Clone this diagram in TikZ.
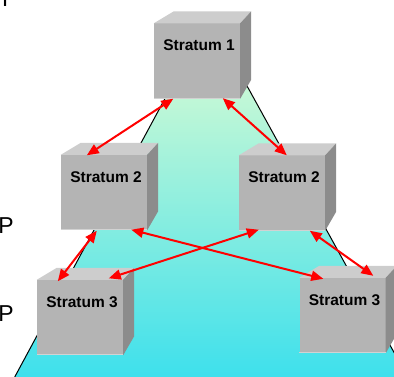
\documentclass[tikz,border=0pt]{standalone}
\usepackage{fontspec}
\setmainfont{Liberation Sans}
\usetikzlibrary{arrows.meta,calc}
\definecolor{cubefront}{RGB}{180,180,180}
\definecolor{cubetop}{RGB}{205,205,205}
\definecolor{cuberight}{RGB}{140,140,140}
\definecolor{cubeedge}{RGB}{210,210,210}
\definecolor{gtop}{RGB}{196,248,214}
\definecolor{gbot}{RGB}{62,224,236}
\definecolor{arrred}{RGB}{255,0,0}
\tikzset{
  face/.style={minimum width=86pt,minimum height=75pt,inner sep=0pt,fill=cubefront,draw=none},
  lab/.style={font=\bfseries\fontsize{15.5}{18}\selectfont,inner sep=0pt,text=black},
  sidelab/.style={font=\fontsize{23}{26}\selectfont,inner sep=0pt,anchor=base west,text=black},
  edgeline/.style={draw=black,line width=1pt},
  link/.style={draw=arrred,line width=2pt,{Triangle[length=12pt,width=10pt]}-{Triangle[length=12pt,width=10pt]}}
}
\newcommand\mycube[3]{%
  \node[face] (#1) at (#2) {};
  \fill[cubetop] (#1.north west) -- ++(20,-12) -- ($(#1.north east)+(11,-12)$) -- (#1.north east) -- cycle;
  \fill[cuberight] (#1.north east) -- ++(11,-12) -- ($(#1.south east)+(11,-19)$) -- (#1.south east) -- cycle;
  \draw[cubeedge,line width=1pt] ($(#1.south west)+(0,-0.5)$) -- ($(#1.south east)+(0,-0.5)$);
  \node[lab] (#1-t) at ($(#1.north)+(2,22)$) {#3};
}
\begin{document}
\begin{tikzpicture}[x=1pt,y=-1pt]
\useasboundingbox (0,0) rectangle (394,377);
% pyramid background
\coordinate (apex) at (209,17);
\coordinate (bl) at (14.7,377);
\coordinate (br) at (407.6,377);
\begin{scope}
  \clip (apex) -- (bl) -- (br) -- cycle;
  \fill[gtop] (0,0) rectangle (410,90);
  \shade[top color=gtop,bottom color=gbot] (0,90) rectangle (410,377);
\end{scope}
\draw[edgeline] (apex) -- (bl);
\draw[edgeline] (apex) -- (br);
% side labels (cut off at the left edge)
\node[sidelab] (tT) at (-2,7) {T};
\node[sidelab] (p1) at (-1.8,233.3) {P};
\node[sidelab] (p2) at (-1.8,321) {P};
% cubes
\mycube{s1}{197,61}{Stratum 1}
\mycube{s2l}{104,192.5}{Stratum 2}
\mycube{s2r}{282,193}{Stratum 2}
\mycube{s3l}{80,317.5}{Stratum 3}
\mycube{s3r}{342.5,315.5}{Stratum 3}
% arrow end points
\coordinate (a1) at ($(s1.south west)+(19.5,0)$);
\coordinate (b1) at ($(s2l.north west)+(26,0.5)$);
\coordinate (a2) at ($(s1.south west)+(69,-0.5)$);
\coordinate (b2) at ($(s2r.north west)+(48,0)$);
\coordinate (a3) at ($(s2l.south west)+(36,0.5)$);
\coordinate (b3) at ($(s3l.north west)+(21,1.5)$);
\coordinate (a4) at ($(s2l.south west)+(70.5,-0.5)$);
\coordinate (b4) at ($(s3r.north west)+(24,1)$);
\coordinate (a5) at ($(s2r.south west)+(20,-1)$);
\coordinate (b5) at ($(s3l.north west)+(72,-1.5)$);
\coordinate (a6) at ($(s2r.south west)+(71,0)$);
\coordinate (b6) at ($(s3r.north west)+(74,-2)$);
\draw[link] (a1) -- (b1);
\draw[link] (a2) -- (b2);
\draw[link] (a3) -- (b3);
\draw[link] (a4) -- (b4);
\draw[link] (a5) -- (b5);
\draw[link] (a6) -- (b6);
\end{tikzpicture}
\end{document}
